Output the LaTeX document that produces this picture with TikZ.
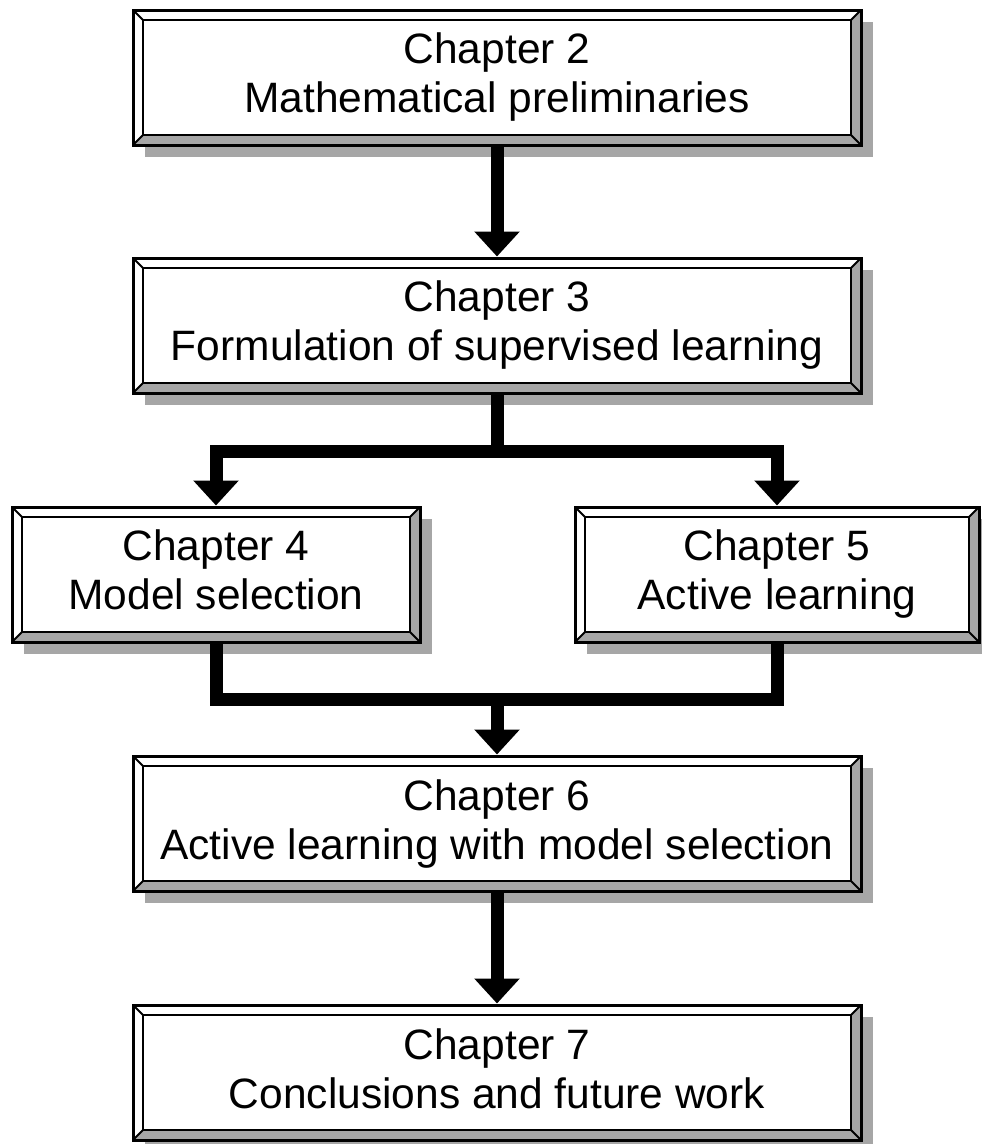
\documentclass[tikz,border=0pt]{standalone}
\usepackage{fontspec}
\setmainfont{Liberation Sans}
\usetikzlibrary{arrows.meta,shadows,calc}
\begin{document}
\begin{tikzpicture}[x=1pt,y=1pt,
  chap/.style={draw, line width=3pt, fill=white, rectangle, inner sep=0pt,
    align=center, minimum height=135pt,
    font=\fontsize{42.5}{49}\selectfont,
    execute at begin node={\vphantom{Ch}},
    execute at end node={\vphantom{g}},
    general shadow={fill=black!35, shadow xshift=12pt, shadow yshift=-12pt},
    path picture={
      \path (path picture bounding box.south west) coordinate (ppsw)
            (path picture bounding box.north east) coordinate (ppne);
      \fill[black!35] (ppsw) -- (ppsw -| ppne) -- ($(ppsw -| ppne)+(-10,10)$) -- ($(ppsw)+(10,10)$) -- cycle;
      \fill[black!35] (ppsw -| ppne) -- (ppne) -- ($(ppne)+(-10,-10)$) -- ($(ppsw -| ppne)+(-10,10)$) -- cycle;
      \draw[line width=2.4pt] ($(ppsw)+(10,10)$) rectangle ($(ppne)+(-10,-10)$);
      \draw[line width=2pt] (ppsw) -- ++(10,10) (ppne) -- ++(-10,-10)
        (ppsw -| ppne) -- ++(-10,10) (ppne -| ppsw) -- ++(10,-10);
    }},
  conn/.style={line width=13pt},
  arr/.style={conn, -{Triangle[width=44pt,length=25pt]}},
]
\useasboundingbox (0,0) rectangle (982,-1144);
\node[chap, minimum width=728pt] (c2) at (497,-77.5) {Chapter 2\\Mathematical preliminaries};
\node[chap, minimum width=728pt] (c3) at (497,-325.5) {Chapter 3\\Formulation of supervised learning};
\node[chap, minimum width=408pt] (c4) at (216,-574.5) {Chapter 4\\Model selection};
\node[chap, minimum width=404pt] (c5) at (777,-574.5) {Chapter 5\\Active learning};
\node[chap, minimum width=728pt] (c6) at (497,-823.5) {Chapter 6\\Active learning with model selection};
\node[chap, minimum width=728pt] (c7) at (497,-1072.5) {Chapter 7\\Conclusions and future work};

\coordinate (j1) at (497,-451);
\coordinate (j2) at (497,-699);
\draw[arr] (c2.south) -- (c3.north);
\draw[conn] (c3.south) -- (j1);
\draw[arr] (j1) -| (c4.north);
\draw[arr] (j1) -| (c5.north);
\draw[conn] (c4.south) |- (j2) -| (c5.south);
\draw[arr] (j2) -- (c6.north);
\draw[arr] (c6.south) -- (c7.north);
\end{tikzpicture}
\end{document}
